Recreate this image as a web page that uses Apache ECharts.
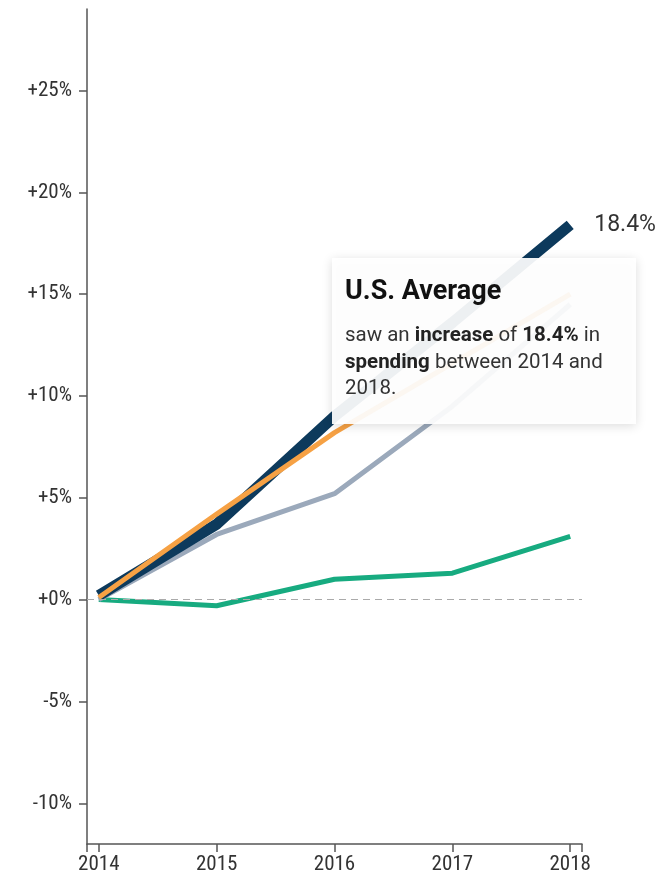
<!DOCTYPE html>
<html>
<head>
<meta charset="utf-8">
<script src="https://cdn.jsdelivr.net/npm/echarts@6/dist/echarts.min.js"></script>
<style>
  html, body { margin: 0; padding: 0; background: #fff; }
  #spendingLine { width: 667px; height: 880px; }
</style>
</head>
<body>
<div id="spendingLine"></div>
<script>
  var years = [2014, 2015, 2016, 2017, 2018]
  var yTicks = [-10, -5, 0, 5, 10, 15, 20, 25]
  var usAverage = [0.2, 3.7, 9.0, 13.6, 18.4]
  var orangeSeries = [0.1, 4.2, 8.2, 11.6, 15.0]
  var graySeries = [0.0, 3.2, 5.2, 9.5, 14.5]
  var greenSeries = [0.0, -0.3, 1.0, 1.3, 3.1]

  function pairs (vals) {
    return vals.map(function (v, i) { return [years[i], v] })
  }

  var chart = echarts.init(document.getElementById('spendingLine'))
  var axisFont = "'Roboto Condensed', Roboto, sans-serif"

  chart.setOption({
    animation: false,
    grid: { left: 87, right: 85, top: 9, bottom: 36 },
    xAxis: {
      type: 'value',
      min: 2013.9,
      max: 2018.1,
      splitLine: { show: false },
      axisLine: { onZero: false, lineStyle: { color: '#555', width: 1.5 } },
      axisTick: {
        length: 8,
        lineStyle: { color: '#555', width: 1.5 },
        customValues: [2013.9].concat(years).concat([2018.1])
      },
      axisLabel: {
        customValues: years,
        color: '#333',
        fontFamily: axisFont,
        fontSize: 21,
        margin: 10,
        formatter: function (v) { return String(Math.round(v)) }
      }
    },
    yAxis: {
      type: 'value',
      min: -12,
      max: 29,
      splitLine: { show: false },
      axisLine: { show: true, onZero: false, lineStyle: { color: '#555', width: 1.5 } },
      axisTick: {
        show: true,
        length: 8,
        lineStyle: { color: '#555', width: 1.5 },
        customValues: yTicks
      },
      axisLabel: {
        customValues: yTicks,
        color: '#333',
        fontFamily: axisFont,
        fontSize: 21,
        margin: 15,
        formatter: function (v) { return (v >= 0 ? '+' : '') + v + '%' }
      }
    },
    series: [{
      name: 'green',
      type: 'line',
      showSymbol: false,
      lineStyle: { color: '#17ab80', width: 5, cap: 'butt' },
      data: pairs(greenSeries),
      markLine: {
        silent: true,
        symbol: 'none',
        label: { show: false },
        lineStyle: { color: '#aaa', type: [7, 5], width: 1.2 },
        data: [{ yAxis: 0 }]
      },
      z: 2
    }, {
      name: 'gray',
      type: 'line',
      showSymbol: false,
      lineStyle: { color: '#9ba9bb', width: 5, cap: 'butt' },
      data: pairs(graySeries),
      z: 3
    }, {
      name: 'U.S. Average',
      type: 'line',
      showSymbol: false,
      lineStyle: { color: '#0d3a5c', width: 11, cap: 'butt' },
      data: pairs(usAverage),
      endLabel: {
        show: true,
        distance: 24,
        color: '#333',
        fontFamily: 'Roboto, sans-serif',
        fontSize: 23,
        formatter: function (p) { return p.value[1] + '%' }
      },
      z: 4
    }, {
      name: 'orange',
      type: 'line',
      showSymbol: false,
      lineStyle: { color: '#f6a144', width: 5, cap: 'butt' },
      data: pairs(orangeSeries),
      z: 5
    }],
    graphic: [{
      type: 'group',
      left: 332,
      top: 258,
      zlevel: 1,
      children: [{
        type: 'rect',
        z: 100,
        shape: { x: 0, y: 0, width: 304, height: 166 },
        style: {
          fill: 'rgba(255,255,255,0.93)',
          shadowBlur: 10,
          shadowColor: 'rgba(0,0,0,0.15)',
          shadowOffsetY: 2
        }
      }, {
        type: 'text',
        z: 101,
        x: 13,
        y: 34,
        style: {
          text: 'U.S. Average',
          fill: '#111',
          font: "bold 27px Roboto, sans-serif",
          verticalAlign: 'middle'
        }
      }, {
        type: 'text',
        z: 101,
        x: 13,
        y: 65,
        style: {
          text: 'saw an {b|increase} of {b|18.4%} in\n{b|spending} between 2014 and\n2018.',
          fill: '#333',
          font: "20.5px Roboto, sans-serif",
          lineHeight: 26.5,
          verticalAlign: 'top',
          rich: {
            b: { fontWeight: 'bold', fontSize: 20.5, fontFamily: 'Roboto, sans-serif', fill: '#222', lineHeight: 26.5 }
          }
        }
      }]
    }]
  })
</script>
</body>
</html>
